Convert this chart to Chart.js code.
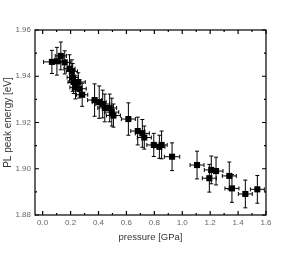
<!DOCTYPE html>
<html>
<head>
<meta charset="utf-8">
<script src="https://cdn.jsdelivr.net/npm/chart.js@4.4.0/dist/chart.umd.min.js"></script>
<style>
    html, body { margin: 0; padding: 0; background: #fff; }
    #wrap { width: 284px; height: 260px; }
</style>
</head>
<body>
<div id="wrap"><canvas id="myChart" width="284" height="260"></canvas></div>
<script>
// values
var pressure = [0.066, 0.102, 0.130, 0.158, 0.192, 0.209, 0.215, 0.222, 0.255, 0.235,
    0.262, 0.283, 0.372, 0.405, 0.430, 0.445, 0.480, 0.495, 0.507, 0.614,
    0.681, 0.714, 0.728, 0.796, 0.836, 0.852, 0.927, 1.106, 1.208, 1.194,
    1.242, 1.337, 1.356, 1.452, 1.538];
var energy = [1.9462, 1.9465, 1.9488, 1.9460, 1.9433, 1.9421, 1.9395, 1.9375, 1.9375, 1.9352,
    1.9346, 1.9320, 1.9297, 1.9288, 1.9280, 1.9263, 1.9263, 1.9245, 1.9230, 1.9215,
    1.9163, 1.9153, 1.9135, 1.9103, 1.9095, 1.9103, 1.9052, 1.9016, 1.8995, 1.8959,
    1.8990, 1.8969, 1.8915, 1.8891, 1.8911];
var pressureErr = [0.06, 0.04, 0.04, 0.04, 0.04, 0.04, 0.04, 0.04, 0.05, 0.04,
    0.05, 0.04, 0.05, 0.05, 0.05, 0.05, 0.05, 0.05, 0.05, 0.05,
    0.05, 0.05, 0.05, 0.05, 0.04, 0.04, 0.055, 0.05, 0.05, 0.05,
    0.05, 0.05, 0.05, 0.05, 0.05];
var energyErr = [0.005, 0.006, 0.006, 0.005, 0.006, 0.005, 0.006, 0.005, 0.004, 0.005,
    0.004, 0.005, 0.007, 0.007, 0.006, 0.006, 0.006, 0.006, 0.005, 0.007,
    0.006, 0.006, 0.005, 0.005, 0.005, 0.006, 0.006, 0.006, 0.006, 0.006,
    0.006, 0.006, 0.006, 0.006, 0.006];
var xTicks = [0.0, 0.2, 0.4, 0.6, 0.8, 1.0, 1.2, 1.4, 1.6];
var yTicks = [1.88, 1.90, 1.92, 1.94, 1.96];

var points = [];
for (var i = 0; i < pressure.length; i++) {
    points.push({ x: pressure[i], y: energy[i] });
}

// error bars drawn under the markers
var errorBars = {
    id: 'errorBars',
    beforeDatasetsDraw: function (chart) {
        var ctx = chart.ctx;
        var xs = chart.scales.x;
        var ys = chart.scales.y;
        var cap = 2;
        ctx.save();
        ctx.strokeStyle = '#000';
        ctx.lineWidth = 1;
        for (var i = 0; i < pressure.length; i++) {
            var px = xs.getPixelForValue(pressure[i]);
            var py = ys.getPixelForValue(energy[i]);
            var x1 = xs.getPixelForValue(pressure[i] - pressureErr[i]);
            var x2 = xs.getPixelForValue(pressure[i] + pressureErr[i]);
            var y1 = ys.getPixelForValue(energy[i] - energyErr[i]);
            var y2 = ys.getPixelForValue(energy[i] + energyErr[i]);
            ctx.beginPath();
            ctx.moveTo(x1, py); ctx.lineTo(x2, py);
            ctx.moveTo(x1, py - cap); ctx.lineTo(x1, py + cap);
            ctx.moveTo(x2, py - cap); ctx.lineTo(x2, py + cap);
            ctx.moveTo(px, y1); ctx.lineTo(px, y2);
            ctx.moveTo(px - cap, y1); ctx.lineTo(px + cap, y1);
            ctx.moveTo(px - cap, y2); ctx.lineTo(px + cap, y2);
            ctx.stroke();
        }
        ctx.restore();
    }
};

// box frame with inward major and minor ticks on all four sides
var frameTicks = {
    id: 'frameTicks',
    afterDraw: function (chart) {
        var ctx = chart.ctx;
        var a = chart.chartArea;
        var xs = chart.scales.x;
        var ys = chart.scales.y;
        ctx.save();
        ctx.strokeStyle = '#000';
        ctx.lineWidth = 1.2;
        ctx.strokeRect(a.left, a.top, a.right - a.left, a.bottom - a.top);
        ctx.beginPath();
        for (var i = 0; i < xTicks.length; i++) {
            var px = xs.getPixelForValue(xTicks[i]);
            ctx.moveTo(px, a.bottom); ctx.lineTo(px, a.bottom - 4);
            ctx.moveTo(px, a.top); ctx.lineTo(px, a.top + 4);
            if (i < xTicks.length - 1) {
                var mx = xs.getPixelForValue((xTicks[i] + xTicks[i + 1]) / 2);
                ctx.moveTo(mx, a.bottom); ctx.lineTo(mx, a.bottom - 2);
                ctx.moveTo(mx, a.top); ctx.lineTo(mx, a.top + 2);
            }
        }
        for (var j = 0; j < yTicks.length; j++) {
            var py = ys.getPixelForValue(yTicks[j]);
            ctx.moveTo(a.left, py); ctx.lineTo(a.left + 4, py);
            ctx.moveTo(a.right, py); ctx.lineTo(a.right - 4, py);
            if (j < yTicks.length - 1) {
                var my = ys.getPixelForValue((yTicks[j] + yTicks[j + 1]) / 2);
                ctx.moveTo(a.left, my); ctx.lineTo(a.left + 2, my);
                ctx.moveTo(a.right, my); ctx.lineTo(a.right - 2, my);
            }
        }
        ctx.stroke();
        ctx.restore();
    }
};

var ctx = document.getElementById('myChart');
var chart = new Chart(ctx, {
    type: 'scatter',
    data: {
        datasets: [{
            data: points,
            pointStyle: 'rect',
            pointRadius: 4.3,
            backgroundColor: '#000',
            borderColor: '#000',
            borderWidth: 0
        }]
    },
    options: {
        responsive: false,
        animation: false,
        events: [],
        layout: { padding: { top: 30, right: 18, left: 0, bottom: 0 } },
        plugins: {
            legend: { display: false },
            tooltip: { enabled: false }
        },
        scales: {
            x: {
                type: 'linear',
                min: -0.055,
                max: 1.6,
                afterFit: function (scale) { scale.height = 45; },
                afterBuildTicks: function (scale) {
                    scale.ticks = xTicks.map(function (v) { return { value: v }; });
                },
                grid: { display: false, drawTicks: false },
                border: { display: false },
                ticks: {
                    padding: 3,
                    maxRotation: 0,
                    color: '#666',
                    font: { family: 'Liberation Sans', size: 8 },
                    callback: function (v) { return v.toFixed(1); }
                },
                title: {
                    display: true,
                    text: 'pressure [GPa]',
                    color: '#333',
                    font: { family: 'Liberation Sans', size: 9.5 },
                    padding: { top: 0, bottom: 17 }
                }
            },
            y: {
                type: 'linear',
                min: 1.88,
                max: 1.96,
                afterFit: function (scale) { scale.width = 35; },
                afterBuildTicks: function (scale) {
                    scale.ticks = yTicks.map(function (v) { return { value: v }; });
                },
                grid: { display: false, drawTicks: false },
                border: { display: false },
                ticks: {
                    padding: 4,
                    color: '#666',
                    font: { family: 'Liberation Sans', size: 8 },
                    callback: function (v) { return v.toFixed(2); }
                },
                title: {
                    display: true,
                    text: 'PL peak energy [eV]',
                    color: '#333',
                    font: { family: 'Liberation Sans', size: 10 },
                    padding: { top: 2, bottom: 0 }
                }
            }
        }
    },
    plugins: [errorBars, frameTicks]
});
</script>
</body>
</html>
